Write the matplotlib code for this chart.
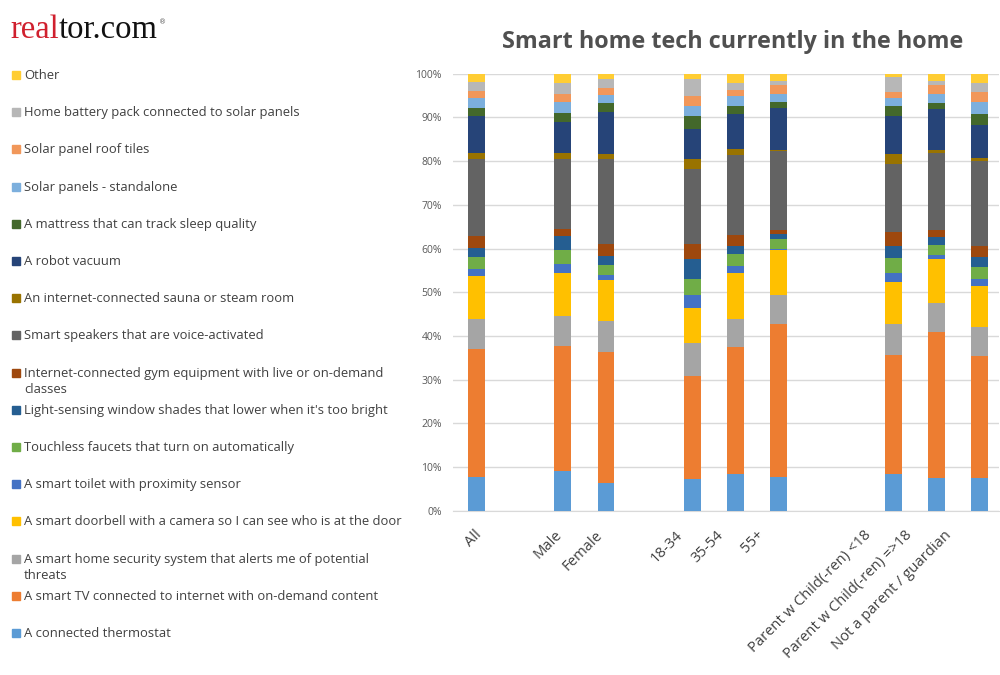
import matplotlib

matplotlib.use("Agg")
import matplotlib.pyplot as plt
import matplotlib.patches as mpatches
import numpy as np

groups = ["All", "Male", "Female", "18-34", "35-54", "55+",
          "Parent w Child(-ren) <18", "Parent w Child(-ren) =>18", "Not a parent / guardian"]

# stack order, bottom to top
items = [
    "A connected thermostat",
    "A smart TV connected to internet with on-demand content",
    "A smart home security system that alerts me of potential\nthreats",
    "A smart doorbell with a camera so I can see who is at the door",
    "A smart toilet with proximity sensor",
    "Touchless faucets that turn on automatically",
    "Light-sensing window shades that lower when it's too bright",
    "Internet-connected gym equipment with live or on-demand\nclasses",
    "Smart speakers that are voice-activated",
    "An internet-connected sauna or steam room",
    "A robot vacuum",
    "A mattress that can track sleep quality",
    "Solar panels - standalone",
    "Solar panel roof tiles",
    "Home battery pack connected to solar panels",
    "Other",
]

# share (%) per item, one list per group, same order as items
all_ = [7.7, 29.4, 6.8, 9.8, 1.6, 2.8, 2.1, 2.7, 17.6, 1.3, 8.4, 1.9, 2.3, 1.6, 2.1, 1.9]
male = [9.2, 28.5, 6.9, 9.8, 2.1, 3.2, 3.1, 1.7, 16.0, 1.3, 7.2, 2.0, 2.4, 1.9, 2.5, 2.2]
female = [6.3, 30.1, 7.0, 9.5, 1.0, 2.4, 2.0, 2.7, 19.5, 1.2, 9.6, 1.9, 2.0, 1.5, 2.1, 1.2]
age_18_34 = [7.3, 23.5, 7.7, 7.9, 3.0, 3.6, 4.5, 3.5, 17.1, 2.4, 6.8, 2.9, 2.5, 2.1, 4.0, 1.2]
age_35_54 = [8.5, 29.0, 6.3, 10.6, 1.6, 2.7, 1.8, 2.7, 18.2, 1.4, 8.0, 1.8, 2.3, 1.4, 1.6, 2.1]
age_55 = [7.8, 35.0, 6.5, 10.3, 0.4, 2.1, 1.3, 0.8, 18.0, 0.4, 9.6, 1.3, 1.9, 1.9, 1.1, 1.6]
parent_u18 = [8.4, 27.2, 7.1, 9.7, 2.1, 3.3, 2.8, 3.2, 15.6, 2.1, 8.7, 2.3, 1.9, 1.3, 3.5, 0.8]
parent_o18 = [7.6, 33.3, 6.7, 9.9, 1.1, 2.3, 1.7, 1.6, 17.6, 0.8, 9.3, 1.3, 2.2, 1.9, 1.1, 1.6]
not_parent = [7.6, 27.9, 6.6, 9.3, 1.7, 2.7, 2.3, 2.4, 19.4, 0.9, 7.5, 2.5, 2.8, 2.1, 2.1, 2.2]

colors = ["#5B9BD5", "#ED7D31", "#A5A5A5", "#FFC000", "#4472C4", "#70AD47",
          "#255E91", "#9E480E", "#636363", "#997300", "#264478", "#43682B",
          "#7CAFDD", "#F1975A", "#B7B7B7", "#FFCD33"]

data = np.array([all_, male, female, age_18_34, age_35_54, age_55,
                 parent_u18, parent_o18, not_parent]).T
x = np.array([0, 2, 3, 5, 6, 7, 9.67, 10.67, 11.67])

fig = plt.figure(figsize=(10, 6.75), dpi=100)
ax = fig.add_axes([0.453, 0.243, 0.546, 0.648])

bottom = np.zeros(len(groups))
for vals, col in zip(data, colors):
    ax.bar(x, vals, width=0.39, bottom=bottom, color=col, zorder=3)
    bottom += vals

ax.set_xlim(-0.55, 12.12)
ax.set_ylim(0, 100)
ax.set_yticks(np.arange(0, 101, 10))
ax.set_yticklabels([f"{v}%" for v in range(0, 101, 10)], fontsize=7.5,
                   color="#595959", family="Open Sans")
ax.tick_params(axis="y", length=0, pad=8)
ax.set_xticks([])
ax.grid(axis="y", color="#D9D9D9", linewidth=1, zorder=0)
for s in ["top", "right", "left"]:
    ax.spines[s].set_visible(False)
ax.spines["bottom"].set_color("#D9D9D9")

# category labels, slightly compressed toward the left as in the source
for xi, lab in zip(x, groups):
    ax.annotate(lab, xy=(xi, 0), xycoords=("data", "axes fraction"),
                xytext=(-2 - 2.0 * xi, -12), textcoords="offset points",
                rotation=45, rotation_mode="anchor", ha="right", va="top",
                fontsize=10.6, color="#404040", family="Open Sans")

# legend on the left, top entry = top of stack
y0, step = 1 - 75 / 675, 37.2 / 675
for i, (lab, col) in enumerate(zip(items[::-1], colors[::-1])):
    yc = y0 - i * step
    fig.add_artist(mpatches.Rectangle((12 / 1000, yc - 4 / 675), 8 / 1000, 8 / 675,
                                      transform=fig.transFigure, color=col))
    fig.text(24 / 1000, yc + 6 / 675, lab, ha="left", va="top", fontsize=9.4,
             color="#404040", family="Open Sans", linespacing=1.3)

fig.text(0.733, 1 - 42 / 675, "Smart home tech currently in the home",
         ha="center", va="center", fontsize=16.8, fontweight="bold",
         color="#505050", family="Open Sans")

t1 = fig.text(10 / 1000, 1 - 38 / 675, "real", ha="left", va="baseline",
              fontsize=23.5, color="#D0202E", family="Liberation Serif")
t2 = ax.annotate("tor.com", xy=(1, 0), xycoords=t1, ha="left", va="bottom",
                 fontsize=23.5, color="#111111", family="Liberation Serif",
                 annotation_clip=False)
ax.annotate("®", xy=(1, 0.75), xycoords=t2, xytext=(1, 0), textcoords="offset points",
            ha="left", va="center", fontsize=5, color="#555555", annotation_clip=False)

fig.savefig("out.png", dpi=100)
